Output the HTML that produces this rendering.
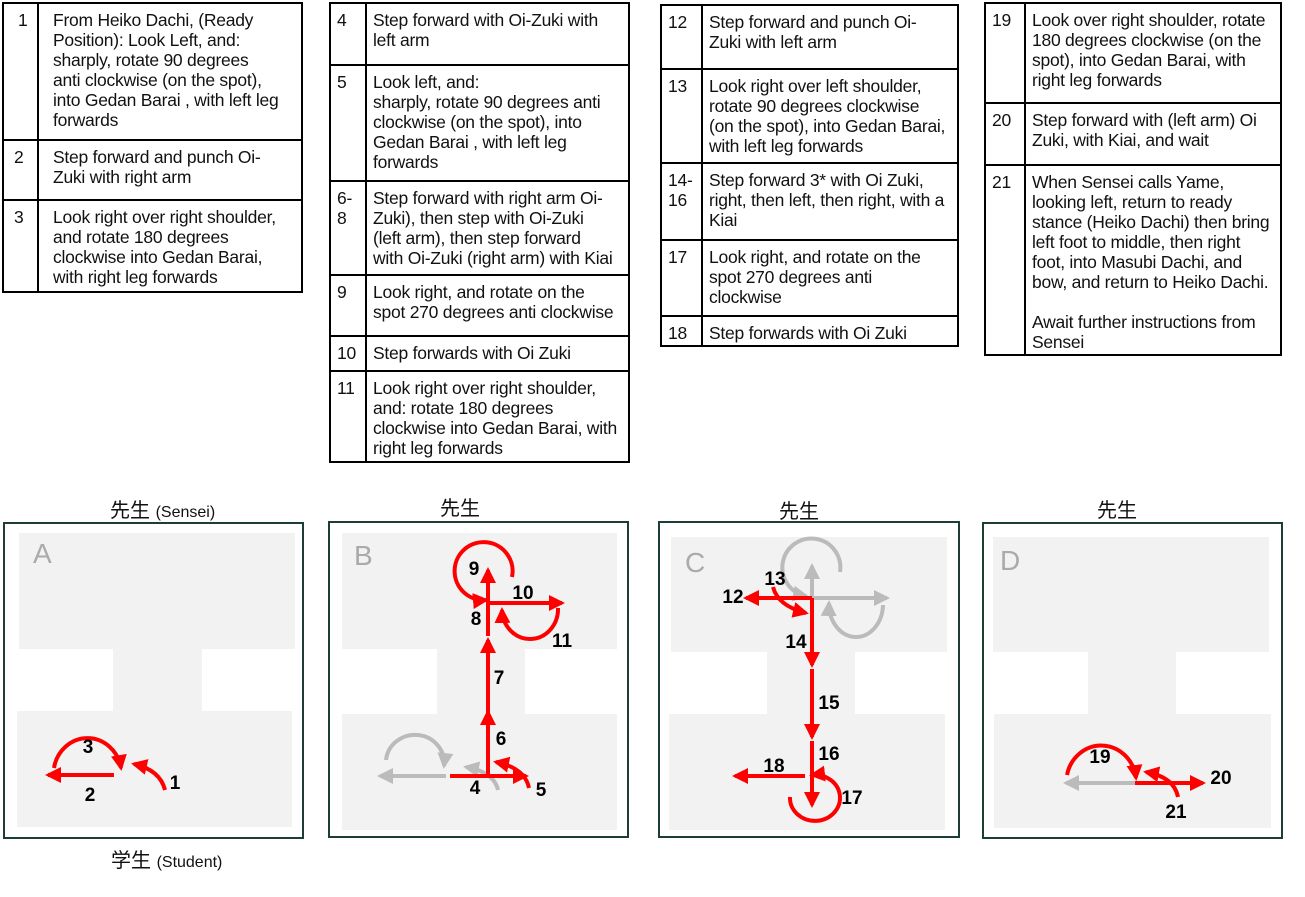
<!DOCTYPE html>
<html><head><meta charset="utf-8">
<style>
*{margin:0;padding:0;box-sizing:border-box}
body{width:1305px;height:897px;background:#fff;position:relative;overflow:hidden;font-family:"Liberation Sans","Noto Sans CJK JP",sans-serif;color:#111}
.t{position:absolute;border:2px solid #000}
.r{position:absolute;left:0;right:0;border-top:2px solid #000}
.r:first-child{border-top:none}
.v{position:absolute;top:0;bottom:0;width:2px;background:#000}
.n,.x{position:absolute;top:6px;font-size:17.5px;line-height:20px;white-space:nowrap;letter-spacing:-0.25px}
.box{position:absolute;border:2px solid #1d3d38}
.g{position:absolute;background:#f2f2f2}
.ttl{position:absolute;font-size:20px;white-space:nowrap}
.ttl small{font-size:16px}
</style></head><body>

<div class="t" style="left:2px;top:2px;width:301px;height:291px">
<div class="r" style="top:0;height:135px"><div class="n" style="left:14px">1</div><div class="x" style="left:49px">From Heiko Dachi, (Ready<br>Position): Look Left, and:<br>sharply, rotate 90 degrees<br>anti clockwise (on the spot),<br>into Gedan Barai , with left leg<br>forwards</div></div>
<div class="r" style="top:135px;height:60px"><div class="n" style="left:10px">2</div><div class="x" style="left:49px">Step forward and punch Oi-<br>Zuki with right arm</div></div>
<div class="r" style="top:195px;height:94px"><div class="n" style="left:10px">3</div><div class="x" style="left:49px">Look right over right shoulder,<br>and rotate 180 degrees<br>clockwise into Gedan Barai,<br>with right leg forwards</div></div>
<div class="v" style="left:33px"></div>
</div>

<div class="t" style="left:329px;top:2px;width:301px;height:461px">
<div class="r" style="top:0;height:60px"><div class="n" style="left:6px">4</div><div class="x" style="left:42px">Step forward with Oi-Zuki with<br>left arm</div></div>
<div class="r" style="top:60px;height:116px"><div class="n" style="left:6px">5</div><div class="x" style="left:42px">Look left, and:<br>sharply, rotate 90 degrees anti<br>clockwise (on the spot), into<br>Gedan Barai , with left leg<br>forwards</div></div>
<div class="r" style="top:176px;height:94px"><div class="n" style="left:6px">6-<br>8</div><div class="x" style="left:42px">Step forward with right arm Oi-<br>Zuki), then step with Oi-Zuki<br>(left arm), then step forward<br>with Oi-Zuki (right arm) with Kiai</div></div>
<div class="r" style="top:270px;height:61px"><div class="n" style="left:6px">9</div><div class="x" style="left:42px">Look right, and rotate on the<br>spot 270 degrees anti clockwise</div></div>
<div class="r" style="top:331px;height:35px"><div class="n" style="left:6px">10</div><div class="x" style="left:42px">Step forwards with Oi Zuki</div></div>
<div class="r" style="top:366px;height:93px"><div class="n" style="left:6px">11</div><div class="x" style="left:42px">Look right over right shoulder,<br>and: rotate 180 degrees<br>clockwise into Gedan Barai, with<br>right leg forwards</div></div>
<div class="v" style="left:34px"></div>
</div>

<div class="t" style="left:660px;top:4px;width:299px;height:343px">
<div class="r" style="top:0;height:62px"><div class="n" style="left:6px">12</div><div class="x" style="left:47px">Step forward and punch Oi-<br>Zuki with left arm</div></div>
<div class="r" style="top:62px;height:94px"><div class="n" style="left:6px">13</div><div class="x" style="left:47px">Look right over left shoulder,<br>rotate 90 degrees clockwise<br>(on the spot), into Gedan Barai,<br>with left leg forwards</div></div>
<div class="r" style="top:156px;height:77px"><div class="n" style="left:6px">14-<br>16</div><div class="x" style="left:47px">Step forward 3* with Oi Zuki,<br>right, then left, then right, with a<br>Kiai</div></div>
<div class="r" style="top:233px;height:76px"><div class="n" style="left:6px">17</div><div class="x" style="left:47px">Look right, and rotate on the<br>spot 270 degrees anti<br>clockwise</div></div>
<div class="r" style="top:309px;height:32px"><div class="n" style="left:6px">18</div><div class="x" style="left:47px">Step forwards with Oi Zuki</div></div>
<div class="v" style="left:39px"></div>
</div>

<div class="t" style="left:984px;top:2px;width:298px;height:354px">
<div class="r" style="top:0;height:98px"><div class="n" style="left:6px">19</div><div class="x" style="left:46px">Look over right shoulder, rotate<br>180 degrees clockwise (on the<br>spot), into Gedan Barai, with<br>right leg forwards</div></div>
<div class="r" style="top:98px;height:62px"><div class="n" style="left:6px">20</div><div class="x" style="left:46px">Step forward with (left arm) Oi<br>Zuki, with Kiai, and wait</div></div>
<div class="r" style="top:160px;height:190px"><div class="n" style="left:6px">21</div><div class="x" style="left:46px">When Sensei calls Yame,<br>looking left, return to ready<br>stance (Heiko Dachi) then bring<br>left foot to middle, then right<br>foot, into Masubi Dachi, and<br>bow, and return to Heiko Dachi.<br><br>Await further instructions from<br>Sensei</div></div>
<div class="v" style="left:38px"></div>
</div>

<div class="ttl" style="left:110px;top:494px">先生 <small>(Sensei)</small></div>
<div class="ttl" style="left:440px;top:492px">先生</div>
<div class="ttl" style="left:779px;top:495px">先生</div>
<div class="ttl" style="left:1097px;top:494px">先生</div>
<div class="ttl" style="left:111px;top:844px">学生 <small>(Student)</small></div>

<div class="box" style="left:3px;top:522px;width:301px;height:317px"></div>
<div class="g" style="left:19px;top:533px;width:276px;height:116px"></div>
<div class="g" style="left:113px;top:649px;width:89px;height:62px"></div>
<div class="g" style="left:17px;top:711px;width:275px;height:116px"></div>

<div class="box" style="left:328px;top:521px;width:301px;height:317px"></div>
<div class="g" style="left:342px;top:533px;width:275px;height:116px"></div>
<div class="g" style="left:437px;top:649px;width:88px;height:65px"></div>
<div class="g" style="left:342px;top:714px;width:275px;height:116px"></div>

<div class="box" style="left:658px;top:521px;width:302px;height:317px"></div>
<div class="g" style="left:671px;top:537px;width:276px;height:115px"></div>
<div class="g" style="left:767px;top:652px;width:88px;height:62px"></div>
<div class="g" style="left:669px;top:714px;width:276px;height:116px"></div>

<div class="box" style="left:982px;top:522px;width:301px;height:317px"></div>
<div class="g" style="left:993px;top:537px;width:276px;height:115px"></div>
<div class="g" style="left:1088px;top:652px;width:88px;height:62px"></div>
<div class="g" style="left:994px;top:714px;width:277px;height:114px"></div>

<svg width="1305" height="897" style="position:absolute;left:0;top:0" font-family="Liberation Sans, sans-serif">
<defs>
<marker id="r" markerUnits="userSpaceOnUse" markerWidth="18" markerHeight="16" refX="13" refY="8" orient="auto"><path d="M0,0 L16,8 L0,16 Z" fill="#f00"/></marker>
<marker id="k" markerUnits="userSpaceOnUse" markerWidth="18" markerHeight="16" refX="13" refY="8" orient="auto"><path d="M0,0 L16,8 L0,16 Z" fill="#bbb"/></marker>
</defs>
<g font-size="28" fill="#aaa">
<text x="33" y="563">A</text><text x="354" y="565">B</text><text x="685" y="572">C</text><text x="1000" y="570">D</text>
</g>
<g fill="none" stroke-width="4">
<path d="M114,775 L48,775" stroke="#f00" marker-end="url(#r)"/>
<path d="M54,768 A34,36 0 0 1 121,768" stroke="#f00" marker-end="url(#r)"/>
<path d="M165,790 Q160,770 134,764" stroke="#f00" marker-end="url(#r)"/>
<path d="M446,776 L380,776" stroke="#bbb" marker-end="url(#k)"/>
<path d="M386,760 A29,28 0 0 1 444,766" stroke="#bbb" marker-end="url(#k)"/>
<path d="M498,790 Q494,772 466,767" stroke="#bbb" marker-end="url(#k)"/>
<path d="M450,776 L526,776" stroke="#f00" marker-end="url(#r)"/>
<path d="M529,788 Q525,768 496,762" stroke="#f00" marker-end="url(#r)"/>
<path d="M488,776 L488,712" stroke="#f00" marker-end="url(#r)"/>
<path d="M488,716 L488,640" stroke="#f00" marker-end="url(#r)"/>
<path d="M488,636 L488,570" stroke="#f00" marker-end="url(#r)"/>
<path d="M488,603 L562,603" stroke="#f00" marker-end="url(#r)"/>
<path d="M512,577 A29,29 0 1 0 486,600" stroke="#f00" marker-end="url(#r)"/>
<path d="M558,608 A28,30 0 0 1 502,610" stroke="#f00" marker-end="url(#r)"/>
<path d="M812,598 L812,566" stroke="#bbb" marker-end="url(#k)"/>
<path d="M812,598 L887,598" stroke="#bbb" marker-end="url(#k)"/>
<path d="M840,572 A29,29 0 1 0 806,596" stroke="#bbb" marker-end="url(#k)"/>
<path d="M883,605 A27,33 0 0 1 829,603" stroke="#bbb" marker-end="url(#k)"/>
<path d="M812,598 L746,598" stroke="#f00" marker-end="url(#r)"/>
<path d="M773,587 Q778,606 806,613" stroke="#f00" marker-end="url(#r)"/>
<path d="M812,598 L812,665" stroke="#f00" marker-end="url(#r)"/>
<path d="M812,669 L812,737" stroke="#f00" marker-end="url(#r)"/>
<path d="M812,741 L812,805" stroke="#f00" marker-end="url(#r)"/>
<path d="M805,776 L735,776" stroke="#f00" marker-end="url(#r)"/>
<path d="M790,797 A25,23 0 1 0 812,775" stroke="#f00" marker-end="url(#r)"/>
<path d="M1135,783 L1066,783" stroke="#bbb" marker-end="url(#k)"/>
<path d="M1135,783 L1203,783" stroke="#f00" marker-end="url(#r)"/>
<path d="M1067,775 A35,37 0 0 1 1136,778" stroke="#f00" marker-end="url(#r)"/>
<path d="M1178,797 Q1174,777 1146,772" stroke="#f00" marker-end="url(#r)"/>
</g>
<g font-size="19" font-weight="bold" fill="#000" text-anchor="middle">
<text x="175" y="789">1</text><text x="90" y="801">2</text><text x="88" y="753">3</text>
<text x="475" y="794">4</text><text x="541" y="796">5</text><text x="501" y="745">6</text><text x="499" y="684">7</text><text x="476" y="625">8</text><text x="474" y="575">9</text><text x="523" y="599">10</text><text x="562" y="647">11</text>
<text x="733" y="603">12</text><text x="775" y="585">13</text><text x="796" y="648">14</text><text x="829" y="709">15</text><text x="829" y="760">16</text><text x="852" y="804">17</text><text x="774" y="772">18</text>
<text x="1100" y="763">19</text><text x="1221" y="784">20</text><text x="1176" y="818">21</text>
</g>
</svg>
</body></html>
